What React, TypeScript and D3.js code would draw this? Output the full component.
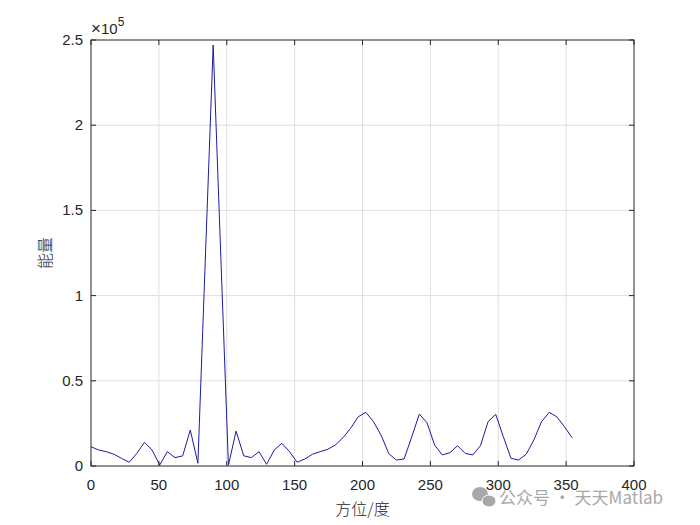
import React, { useRef, useEffect } from "react";
import * as d3 from "d3";

// 方位角 (度), 步长 360/64
const azimuthStep = 360 / 64;
const energyValues = [
  11300, 9400, 8400, 6900, 4500, 2200, 7400, 13900, 9400, 600,
  8400, 4900, 5900, 21100, 1600, 125000, 247000, 123000, 500, 20500,
  6000, 4900, 8400, 1000, 9400, 13300, 8400, 2200, 4100, 6900,
  8400, 9800, 12300, 16600, 22100, 28900, 31500, 26000, 18000, 7200,
  3500, 4100, 17000, 30500, 25400, 12300, 6500, 7800, 11900, 7400,
  6500, 11900, 26000, 30300, 17200, 4500, 3500, 6900, 15300, 26000,
  31500, 28900, 23100, 16600,
];
const xTicks = [0, 50, 100, 150, 200, 250, 300, 350, 400];
const yTicks = [0, 0.5, 1, 1.5, 2, 2.5];

const App = () => {
  const ref = useRef<SVGSVGElement | null>(null);

  useEffect(() => {
    if (!ref.current) return;
    const svg = d3.select(ref.current);
    svg.selectAll("*").remove();

    const left = 91;
    const right = 634;
    const top = 40;
    const bottom = 466;
    const font = "'Liberation Sans', Arial, Helvetica, sans-serif";
    const cjk = "'Noto Sans CJK SC', sans-serif";

    const x = d3.scaleLinear().domain([0, 400]).range([left, right]);
    const y = d3.scaleLinear().domain([0, 2.5]).range([bottom, top]);

    svg.append("rect").attr("width", 700).attr("height", 525).attr("fill", "#fff");

    // 网格
    const grid = svg.append("g").attr("stroke", "#dedede").attr("stroke-width", 1);
    xTicks.slice(1, -1).forEach((t) => {
      grid.append("line").attr("x1", x(t)).attr("x2", x(t)).attr("y1", top).attr("y2", bottom);
    });
    yTicks.slice(1, -1).forEach((t) => {
      grid.append("line").attr("x1", left).attr("x2", right).attr("y1", y(t)).attr("y2", y(t));
    });

    // 曲线
    const data = energyValues.map((v, i) => ({ a: i * azimuthStep, v: v / 1e5 }));
    const line = d3
      .line<{ a: number; v: number }>()
      .x((d) => x(d.a))
      .y((d) => y(d.v));
    svg
      .append("path")
      .datum(data)
      .attr("d", line)
      .attr("fill", "none")
      .attr("stroke", "#1c1ca0")
      .attr("stroke-width", 1);

    // 坐标框
    svg
      .append("rect")
      .attr("x", left)
      .attr("y", top)
      .attr("width", right - left)
      .attr("height", bottom - top)
      .attr("fill", "none")
      .attr("stroke", "#262626")
      .attr("stroke-width", 1);

    const tl = 5;
    const ticks = svg.append("g").attr("stroke", "#262626").attr("stroke-width", 1);
    xTicks.forEach((t) => {
      ticks.append("line").attr("x1", x(t)).attr("x2", x(t)).attr("y1", bottom).attr("y2", bottom - tl);
      ticks.append("line").attr("x1", x(t)).attr("x2", x(t)).attr("y1", top).attr("y2", top + tl);
    });
    yTicks.forEach((t) => {
      ticks.append("line").attr("x1", left).attr("x2", left + tl).attr("y1", y(t)).attr("y2", y(t));
      ticks.append("line").attr("x1", right).attr("x2", right - tl).attr("y1", y(t)).attr("y2", y(t));
    });

    // 刻度标签
    svg
      .append("g")
      .selectAll("text")
      .data(xTicks)
      .enter()
      .append("text")
      .attr("x", (d) => x(d))
      .attr("y", bottom + 24)
      .attr("text-anchor", "middle")
      .style("font-family", font)
      .style("font-size", "15px")
      .attr("fill", "#262626")
      .text((d) => `${d}`);

    svg
      .append("g")
      .selectAll("text")
      .data(yTicks)
      .enter()
      .append("text")
      .attr("x", left - 8)
      .attr("y", (d) => y(d) + 5)
      .attr("text-anchor", "end")
      .style("font-family", font)
      .style("font-size", "15px")
      .attr("fill", "#262626")
      .text((d) => `${d}`);

    // ×10^5
    const exp = svg
      .append("text")
      .attr("x", left)
      .attr("y", top - 6)
      .style("font-family", font)
      .style("font-size", "15px")
      .attr("fill", "#262626");
    exp.append("tspan").style("font-size", "17px").text("×");
    exp.append("tspan").text("10");
    exp.append("tspan").attr("dy", -8).style("font-size", "12px").text("5");

    // 轴标题
    svg
      .append("text")
      .attr("transform", `translate(51, ${(top + bottom) / 2}) rotate(-90)`)
      .attr("text-anchor", "middle")
      .style("font-family", cjk)
      .style("font-size", "16px")
      .style("font-weight", 300)
      .attr("fill", "#262626")
      .text("能量");

    svg
      .append("text")
      .attr("x", (left + right) / 2)
      .attr("y", 515)
      .attr("text-anchor", "middle")
      .style("font-family", cjk)
      .style("font-size", "16px")
      .style("font-weight", 300)
      .attr("fill", "#262626")
      .text("方位/度");

    // 水印
    const wm = svg.append("g").attr("fill", "#a8a8a8");
    wm.append("ellipse").attr("cx", 480).attr("cy", 494).attr("rx", 8).attr("ry", 7);
    wm.append("ellipse").attr("cx", 489).attr("cy", 501).attr("rx", 7).attr("ry", 6).attr("stroke", "#fff").attr("stroke-width", 1);
    wm.append("text")
      .attr("x", 499)
      .attr("y", 504)
      .style("font-family", cjk)
      .style("font-size", "17px")
      .text("公众号 · 天天Matlab");
  }, []);

  return (
    <svg
      ref={ref}
      width={700}
      height={525}
      style={{ position: "absolute", left: 0, top: 0 }}
    />
  );
};

export default App;
